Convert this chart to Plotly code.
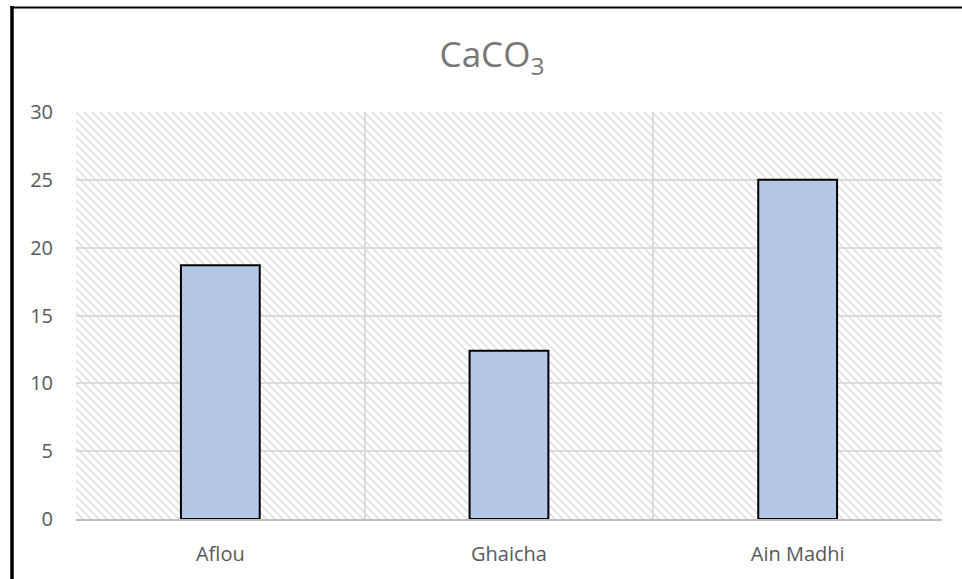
import base64
import plotly.graph_objects as go

# data
sites = ["Aflou", "Ghaicha", "Ain Madhi"]
caco3 = [18.7, 12.4, 25.0]
y_ticks = [0, 5, 10, 15, 20, 25, 30]

W, H = 962, 579
L, R, T, B = 76, 20, 112, 60
pw, ph = W - L - R, H - T - B


def px_x(p):
    return (p - L) / pw


def px_y(q):
    return (H - B - q) / ph


# hatched plot-area background (light diagonal stripes like the Excel fill)
svg = (
    f'<svg xmlns="http://www.w3.org/2000/svg" width="{pw}" height="{ph}">'
    '<defs><pattern id="h" patternUnits="userSpaceOnUse" width="8" height="8">'
    '<path d="M0,0 L8,8 M-2,6 L2,10 M6,-2 L10,2" stroke="#d9d9d9" stroke-width="1.3"/>'
    '</pattern></defs>'
    f'<rect width="{pw}" height="{ph}" fill="url(#h)"/></svg>'
)
hatch = "data:image/svg+xml;base64," + base64.b64encode(svg.encode()).decode()

fig = go.Figure()
fig.add_trace(go.Bar(
    x=sites,
    y=caco3,
    marker=dict(color="#b4c7e7", line=dict(color="#000000", width=2)),
    hoverinfo="skip",
))

fig.update_layout(
    width=W,
    height=H,
    margin=dict(l=L, r=R, t=T, b=B),
    paper_bgcolor="white",
    plot_bgcolor="white",
    showlegend=False,
    bargap=0.727,
    font=dict(family="Open Sans", color="#595959", size=20),
    title=dict(
        text="CaCO<sub>3</sub>",
        font=dict(family="Open Sans", size=35, color="#767676"),
        xref="container", x=492 / W, xanchor="center",
        yref="container", y=1 - 55 / H, yanchor="middle",
    ),
    xaxis=dict(
        type="category",
        tickson="boundaries",
        ticks="",
        showgrid=True,
        gridcolor="#d9d9d9",
        gridwidth=1.5,
        showline=True,
        linecolor="#bfbfbf",
        linewidth=1.5,
        ticklabelstandoff=16,
        zeroline=False,
    ),
    yaxis=dict(
        range=[0, 30],
        tickvals=y_ticks,
        showgrid=True,
        gridcolor="#d9d9d9",
        gridwidth=1.5,
        showline=False,
        zeroline=False,
        ticks="",
        ticklabelstandoff=22,
    ),
    images=[dict(
        source=hatch,
        xref="paper", yref="paper",
        x=0, y=1, sizex=1, sizey=1,
        xanchor="left", yanchor="top",
        sizing="stretch", layer="below",
    )],
    shapes=[
        # chart-area border (left and top edges visible in the crop)
        dict(type="line", xref="paper", yref="paper",
             x0=px_x(12), x1=px_x(12), y0=px_y(6), y1=px_y(H + 5),
             line=dict(color="black", width=3.5)),
        dict(type="line", xref="paper", yref="paper",
             x0=px_x(10.5), x1=px_x(W + 5), y0=px_y(7.5), y1=px_y(7.5),
             line=dict(color="black", width=2)),
    ],
)

# drop the default 8px page margin so the figure sits at the window's corner
fig.write_html(
    "out.html",
    config={"displayModeBar": False},
    post_script="document.body.style.margin='0';",
)
